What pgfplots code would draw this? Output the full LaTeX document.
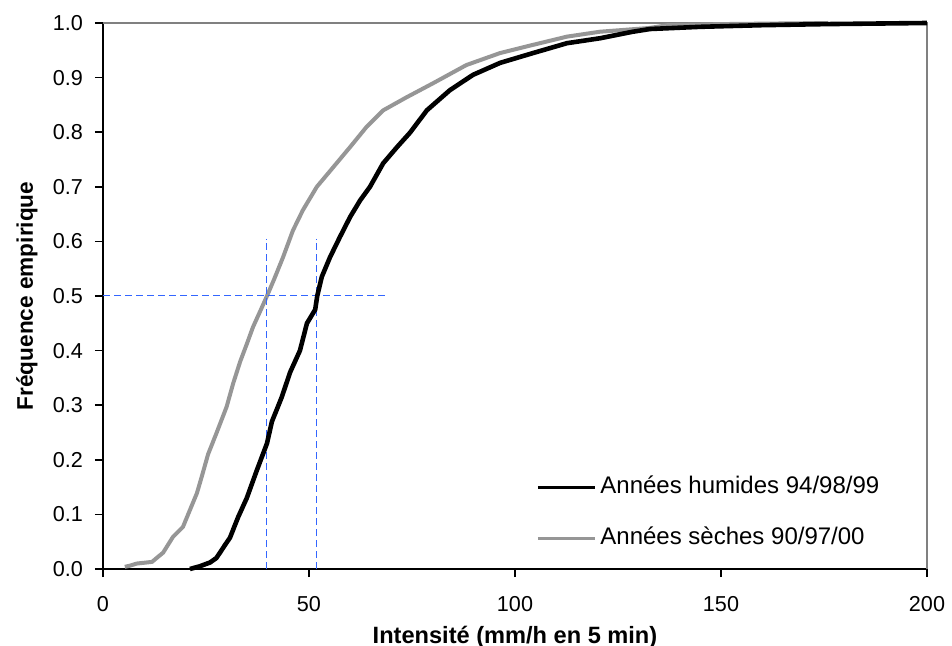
\documentclass[border=0pt]{standalone}
\usepackage{fontspec}
\setmainfont{Liberation Sans}
\usepackage{pgfplots}
\pgfplotsset{compat=1.18}
\definecolor{dryg}{RGB}{150,150,150}
\definecolor{dashb}{RGB}{51,102,255}
\definecolor{frameg}{RGB}{128,128,128}
\begin{document}
\begin{tikzpicture}
\useasboundingbox (-51.5bp,-38.5bp) rectangle (424.5bp,284.5bp);
\begin{axis}[
  at={(0,0)}, anchor=south west,
  scale only axis, width=412bp, height=273bp,
  xmin=0, xmax=200, ymin=0, ymax=1,
  clip=false,
  axis x line*=bottom, axis y line*=left,
  axis line style={black, line width=0.8bp, -},
  xtick={0,50,100,150,200},
  ytick={0,0.1,0.2,0.3,0.4,0.5,0.6,0.7,0.8,0.9,1.0},
  tick align=outside, major tick length=4bp,
  tick style={black, line width=0.8bp},
  /pgf/number format/assume math mode=true,
  yticklabel style={/pgf/number format/.cd, fixed, fixed zerofill, precision=1, /tikz/.cd, xshift=-2.5bp},
  xticklabel style={yshift=-6bp},
  ticklabel style={font=\fontsize{10.8bp}{13bp}\selectfont},
  every axis x label/.style={at={(axis description cs:0.5,0)}, anchor=base, yshift=-37bp, font=\bfseries\fontsize{11.8bp}{14bp}\selectfont},
  every axis y label/.style={at={(axis description cs:-0.085,0.5)}, rotate=90, anchor=base, font=\bfseries\fontsize{11.3bp}{14bp}\selectfont},
  xlabel={Intensité (mm/h en 5 min)},
  ylabel={Fréquence empirique},
  legend style={draw=none, fill=none, at={(0.526,0.172)}, anchor=north west, inner sep=0pt, outer sep=0pt, row sep=13.5bp, column sep=2bp, nodes={inner sep=0pt, text height=9bp, text depth=3bp, font=\fontsize{12bp}{14bp}\selectfont}},
  legend cell align=left,
  legend image code/.code={\draw[#1, line width=1.5bp, line cap=butt] (0bp,0bp) -- (28.5bp,0bp);},
  reverse legend,
]
\draw[frameg, line width=0.6bp] (rel axis cs:0,1) -- (rel axis cs:1,1) -- (rel axis cs:1,0);

\addplot[dryg, line width=2bp, line join=round] coordinates {
(5.3,0.004) (6.5,0.006) (8.2,0.01) (11.9,0.013) (13,0.02) (14.6,0.03) (17,0.059) (19.4,0.077) (21.1,0.108) (22.8,0.139) (24,0.17) (25.5,0.21) (27.6,0.25) (30,0.297) (31.6,0.34) (33.3,0.38) (35,0.414) (36.4,0.443) (38.5,0.478) (39.8,0.50) (41.5,0.53) (43.7,0.571) (46.1,0.62) (48.5,0.657) (51.9,0.70) (55.9,0.736) (60,0.773) (64,0.81) (68,0.84) (73.7,0.864) (80.2,0.89) (88.2,0.923) (96.4,0.945) (104.4,0.96) (112.6,0.975) (120.6,0.984) (132.8,0.991) (137,0.996) (150,0.998) (176,1.0)
};
\addlegendentry{Années sèches 90/97/00}

\addplot[dashb, line width=0.5bp, dash pattern=on 3.3bp off 2.2bp, forget plot] coordinates {(39.6,0) (39.6,0.605)};
\addplot[dashb, line width=0.5bp, dash pattern=on 3.3bp off 2.2bp, forget plot] coordinates {(51.9,0) (51.9,0.605)};
\addplot[dashb, line width=0.5bp, dash pattern=on 3.3bp off 2.2bp, forget plot] coordinates {(0,0.5) (69,0.5)};

\addplot[black, line width=2.3bp, line join=round] coordinates {
(21.1,0) (23.5,0.005) (26,0.012) (27.5,0.02) (28.4,0.03) (29.7,0.045) (30.8,0.057) (32.8,0.095) (34.9,0.13) (37.3,0.18) (39.8,0.23) (41,0.27) (43.4,0.315) (45.4,0.36) (47.8,0.40) (49.5,0.45) (51.5,0.475) (52,0.50) (53.1,0.535) (55.1,0.571) (57.5,0.608) (60,0.645) (62.4,0.675) (64.8,0.70) (68,0.743) (71.4,0.773) (74.5,0.799) (78.6,0.84) (84.2,0.877) (89.8,0.905) (96.4,0.927) (104.4,0.945) (112.6,0.963) (120.6,0.972) (128.6,0.984) (132.8,0.989) (145,0.993) (160,0.996) (175.7,0.998) (200,1.0)
};
\addlegendentry{Années humides 94/98/99}
\end{axis}
\end{tikzpicture}
\end{document}
